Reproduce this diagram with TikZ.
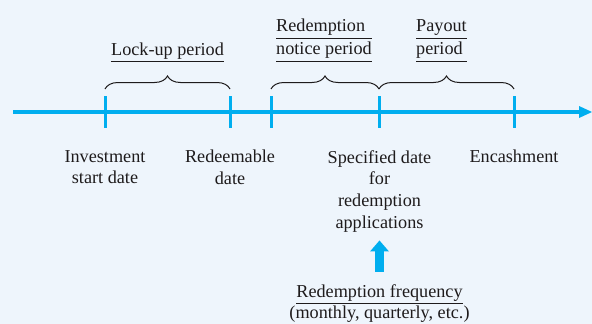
\documentclass[tikz,border=0pt]{standalone}
\usepackage{fontspec}
\setmainfont{Liberation Serif}
\newfontfamily\lserif{Liberation Serif}
\usetikzlibrary{arrows.meta,decorations.pathreplacing,calc}
\definecolor{bgc}{RGB}{238,245,252}
\definecolor{cyanline}{RGB}{0,174,239}
\definecolor{txt}{RGB}{30,27,28}
\begin{document}
\begin{tikzpicture}[x=1pt,y=-1pt,
  lbl/.style={font=\lserif\fontsize{18.2}{21.8}\selectfont, text=txt, inner sep=0pt, align=center},
  axisline/.style={draw=cyanline, line width=3.6pt, -{Triangle[width=12pt,length=13pt,line width=0pt]}},
  tickmark/.style={draw=cyanline, line width=3pt},
  bracedeco/.style={draw=txt, line width=1pt, decorate, decoration={brace, amplitude=13pt}},
  ul/.style={draw=txt, line width=0.9pt},
  uparrow/.style={draw=cyanline, line width=8.5pt, -{Triangle[width=19pt,length=11pt,line width=0pt]}}
]
\fill[bgc] (0,0) rectangle (592,324);
\useasboundingbox (0,0) rectangle (592,324);

% timeline
\coordinate (start) at (13,112);
\coordinate (finish) at (592,112);
\coordinate (t1) at (105,112);
\coordinate (t2) at (230,112);
\coordinate (t3) at (271,112);
\coordinate (t4) at (379,112);
\coordinate (t5) at (514,112);
\draw[axisline] (start) -- (finish);
\foreach \t in {t1,t2,t3,t4,t5}
  \draw[tickmark] ($(\t)+(0,-16)$) -- ($(\t)+(0,16)$);

% braces
\draw[bracedeco] ($(t1)+(0,-23)$) -- ($(t2)+(0,-23)$);
\draw[bracedeco] ($(t3)+(0,-23)$) -- ($(t4)+(0,-23)$);
\draw[bracedeco] ($(t4)+(0,-23)$) -- ($(t5)+(0,-23)$);

% period labels
\node[lbl, anchor=base] (lock) at (167.5,55) {Lock-up period};
\draw[ul] ($(lock.base west)+(0,6)$) -- ($(lock.base east)+(0,6)$);

\node[lbl, anchor=base west] (rn1) at (276,31) {Redemption};
\node[lbl, anchor=base west] (rn2) at (276,54) {notice period};
\draw[ul] ($(rn1.base west)+(0,7)$) -- ($(rn2.base east)+(0,-16)$);
\draw[ul] ($(rn2.base west)+(0,7)$) -- ($(rn2.base east)+(0,7)$);

\node[lbl, anchor=base west] (pay1) at (416,31) {Payout};
\node[lbl, anchor=base west] (pay2) at (416,54) {period};
\draw[ul] ($(pay1.base west)+(0,7)$) -- ($(pay1.base east)+(0,7)$);
\draw[ul] ($(pay2.base west)+(0,7)$) -- ($(pay1.base east)+(0,30)$);

% date labels
\node[lbl, anchor=north] (inv) at (105,150) {Investment\\start date};
\node[lbl, anchor=north] (red) at (230,150) {Redeemable\\date};
\node[lbl, anchor=north] (spec) at (379.5,150) {Specified date\\for\\redemption\\applications};
\node[lbl, anchor=north] (enc) at (514,150) {Encashment};

% redemption frequency
\node[lbl, anchor=base] (freq1) at (379.5,297) {Redemption frequency};
\node[lbl, anchor=base] (freq2) at (379.5,318.5) {(monthly, quarterly, etc.)};
\draw[ul] ($(freq1.base west)+(0,6)$) -- ($(freq1.base east)+(0,6)$);

\draw[uparrow, shorten <=12pt, shorten >=8pt] (freq1.north) -- (spec.south);
\end{tikzpicture}
\end{document}
